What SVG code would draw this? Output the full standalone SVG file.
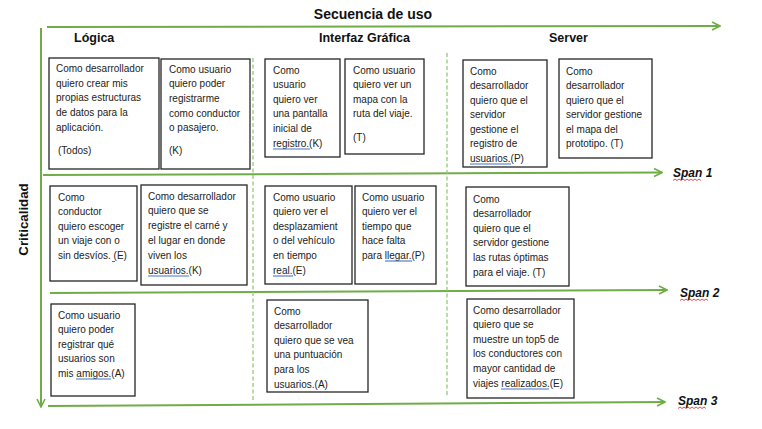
<svg xmlns="http://www.w3.org/2000/svg" width="762" height="429" viewBox="0 0 762 429">
<style>
.axis{stroke:#70AD47;stroke-width:2;fill:none}
.dash{stroke:#8CC56A;stroke-width:1.2;stroke-dasharray:4 2.5;fill:none}
.box{fill:#fff;stroke:#262626;stroke-width:1.3}
.t{font-family:"Liberation Sans",Arial,sans-serif;font-size:10px;fill:#222}
.h{font-family:"Liberation Sans",Arial,sans-serif;font-weight:bold;fill:#111}
.span{font-family:"Liberation Sans",Arial,sans-serif;font-weight:bold;font-style:italic;font-size:12px;fill:#111}
.ul{stroke:#4472C4;stroke-width:1.1}
.sq{stroke:#E02020;stroke-width:0.8;fill:none}
</style>
<defs>
<marker id="arr" viewBox="0 0 10 10" refX="9" refY="5" markerWidth="5" markerHeight="5" orient="auto" markerUnits="strokeWidth">
<path d="M1,1 L9,5 L1,9" fill="none" stroke="#70AD47" stroke-width="1.6"/>
</marker>
</defs>
<rect width="762" height="429" fill="#fff"/>

<g id="headers">
<text class="h" x="373" y="19" font-size="14" text-anchor="middle">Secuencia de uso</text>
<text class="h" x="74" y="42" font-size="12.5">Lógica</text>
<text class="h" x="319" y="42" font-size="12.5">Interfaz Gráfica</text>
<text class="h" x="549" y="42" font-size="12.5">Server</text>
<text class="h" font-size="13.3" text-anchor="middle" transform="translate(27.5,219.5) rotate(-90)">Criticalidad</text>
<text class="span" x="673" y="177">Span 1</text>
<text class="span" x="680" y="297">Span 2</text>
<text class="span" x="678" y="405">Span 3</text>
<path class="sq" d="M673,180.5 l2,-1.5 l2,1.5 l2,-1.5 l2,1.5 l2,-1.5 l2,1.5 l2,-1.5 l2,1.5 l2,-1.5 l2,1.5 l2,-1.5 l2,1.5 l2,-1.5 l2,1.5"/>
<path class="sq" d="M680,300.5 l2,-1.5 l2,1.5 l2,-1.5 l2,1.5 l2,-1.5 l2,1.5 l2,-1.5 l2,1.5 l2,-1.5 l2,1.5 l2,-1.5 l2,1.5 l2,-1.5 l2,1.5"/>
<path class="sq" d="M678,408.5 l2,-1.5 l2,1.5 l2,-1.5 l2,1.5 l2,-1.5 l2,1.5 l2,-1.5 l2,1.5 l2,-1.5 l2,1.5 l2,-1.5 l2,1.5 l2,-1.5 l2,1.5"/>
</g>

<g id="connectors">
<line class="axis" x1="47" y1="27" x2="720" y2="26" marker-end="url(#arr)"/>
<line class="axis" x1="41" y1="28" x2="41" y2="407" marker-end="url(#arr)"/>
<line class="axis" x1="43" y1="175" x2="662" y2="172.5" marker-end="url(#arr)"/>
<line class="axis" x1="50" y1="293" x2="667" y2="290" marker-end="url(#arr)"/>
<line class="axis" x1="48" y1="406" x2="665" y2="402" marker-end="url(#arr)"/>
<line class="dash" x1="253" y1="58" x2="253" y2="400"/>
<line class="dash" x1="447" y1="53" x2="447" y2="397"/>
</g>

<g id="n1">
<rect class="box" x="49" y="58" width="110" height="111"/>
<text class="t" y="72"><tspan x="56">Como desarrollador</tspan><tspan x="56" dy="14.7">quiero crear mis</tspan><tspan x="56" dy="14.7">propias estructuras</tspan><tspan x="56" dy="14.7">de datos para la</tspan><tspan x="56" dy="14.7">aplicación.</tspan><tspan x="58" dy="22.7">(Todos)</tspan></text>
</g>
<g id="n2">
<rect class="box" x="161" y="59" width="89" height="110"/>
<text class="t" y="72.5"><tspan x="169">Como usuario</tspan><tspan x="169" dy="14.7">quiero poder</tspan><tspan x="169" dy="14.7">registrarme</tspan><tspan x="169" dy="14.7">como conductor</tspan><tspan x="169" dy="14.7">o pasajero.</tspan><tspan x="169" dy="23">(K)</tspan></text>
</g>
<g id="n3">
<rect class="box" x="265" y="59" width="75" height="98"/>
<text class="t" y="73.5"><tspan x="273">Como</tspan><tspan x="273" dy="14.6">usuario</tspan><tspan x="273" dy="14.6">quiero ver</tspan><tspan x="273" dy="14.6">una pantalla</tspan><tspan x="273" dy="14.6">inicial de</tspan><tspan x="273" dy="14.6">registro.(K)</tspan></text>
<line class="ul" x1="273" y1="149" x2="310" y2="149"/>
</g>
<g id="n4">
<rect class="box" x="345" y="59" width="79" height="95"/>
<text class="t" y="73.5"><tspan x="353">Como usuario</tspan><tspan x="353" dy="14.5">quiero ver un</tspan><tspan x="353" dy="14.5">mapa con la</tspan><tspan x="353" dy="14.5">ruta del viaje.</tspan><tspan x="353" dy="23.5">(T)</tspan></text>
</g>
<g id="n5">
<rect class="box" x="463" y="60" width="84" height="107"/>
<text class="t" y="74.5"><tspan x="470">Como</tspan><tspan x="470" dy="14.5">desarrollador</tspan><tspan x="470" dy="14.5">quiero que el</tspan><tspan x="470" dy="14.5">servidor</tspan><tspan x="470" dy="14.5">gestione el</tspan><tspan x="470" dy="14.5">registro de</tspan><tspan x="470" dy="14.5">usuarios.(P)</tspan></text>
<line class="ul" x1="470" y1="164" x2="511" y2="164"/>
</g>
<g id="n6">
<rect class="box" x="559" y="59" width="93" height="99"/>
<text class="t" y="74.5"><tspan x="566">Como</tspan><tspan x="566" dy="14.5">desarrollador</tspan><tspan x="566" dy="14.5">quiero que el</tspan><tspan x="566" dy="14.5">servidor gestione</tspan><tspan x="566" dy="14.5">el mapa del</tspan><tspan x="566" dy="14.5">prototipo. (T)</tspan></text>
</g>

<g id="n7">
<rect class="box" x="50" y="186" width="87" height="95"/>
<text class="t" y="200.5"><tspan x="58">Como</tspan><tspan x="58" dy="14.6">conductor</tspan><tspan x="58" dy="14.6">quiero escoger</tspan><tspan x="58" dy="14.6">un viaje con o</tspan><tspan x="58" dy="14.6">sin desvíos. (E)</tspan></text>
<line class="ul" x1="112" y1="261.5" x2="115" y2="261.5"/>
</g>
<g id="n8">
<rect class="box" x="141" y="185" width="106" height="100"/>
<text class="t" y="199.5"><tspan x="148">Como desarrollador</tspan><tspan x="148" dy="14.8">quiero que se</tspan><tspan x="148" dy="14.8">registre el carné y</tspan><tspan x="148" dy="14.8">el lugar en donde</tspan><tspan x="148" dy="14.8">viven los</tspan><tspan x="148" dy="14.8">usuarios.(K)</tspan></text>
<line class="ul" x1="148" y1="276" x2="189" y2="276"/>
</g>
<g id="n9">
<rect class="box" x="265" y="186" width="87" height="98"/>
<text class="t" y="200.5"><tspan x="273">Como usuario</tspan><tspan x="273" dy="14.6">quiero ver el</tspan><tspan x="273" dy="14.6">desplazamient</tspan><tspan x="273" dy="14.6">o del vehículo</tspan><tspan x="273" dy="14.6">en tiempo</tspan><tspan x="273" dy="14.6">real.(E)</tspan></text>
<line class="ul" x1="273" y1="276" x2="293" y2="276"/>
</g>
<g id="n10">
<rect class="box" x="355" y="186" width="81" height="98"/>
<text class="t" y="200.5"><tspan x="362">Como usuario</tspan><tspan x="362" dy="14.5">quiero ver el</tspan><tspan x="362" dy="14.5">tiempo que</tspan><tspan x="362" dy="14.5">hace falta</tspan><tspan x="362" dy="14.5">para llegar.(P)</tspan></text>
<line class="ul" x1="385" y1="261" x2="412" y2="261"/>
</g>
<g id="n11">
<rect class="box" x="466" y="187" width="103" height="99"/>
<text class="t" y="202.5"><tspan x="473">Como</tspan><tspan x="473" dy="14.6">desarrollador</tspan><tspan x="473" dy="14.6">quiero que el</tspan><tspan x="473" dy="14.6">servidor gestione</tspan><tspan x="473" dy="14.6">las rutas óptimas</tspan><tspan x="473" dy="14.6">para el viaje. (T)</tspan></text>
</g>

<g id="n12">
<rect class="box" x="51" y="304" width="84" height="92"/>
<text class="t" y="318.5"><tspan x="58">Como usuario</tspan><tspan x="58" dy="14.5">quiero poder</tspan><tspan x="58" dy="14.5">registrar qué</tspan><tspan x="58" dy="14.5">usuarios son</tspan><tspan x="58" dy="14.5">mis amigos.(A)</tspan></text>
<line class="ul" x1="76" y1="379" x2="111" y2="379"/>
</g>
<g id="n13">
<rect class="box" x="267" y="300" width="101" height="92"/>
<text class="t" y="314.5"><tspan x="274">Como</tspan><tspan x="274" dy="14.6">desarrollador</tspan><tspan x="274" dy="14.6">quiero que se vea</tspan><tspan x="274" dy="14.6">una puntuación</tspan><tspan x="274" dy="14.6">para los</tspan><tspan x="274" dy="14.6">usuarios.(A)</tspan></text>
</g>
<g id="n14">
<rect class="box" x="467" y="299" width="107" height="99"/>
<text class="t" y="313.5"><tspan x="473">Como desarrollador</tspan><tspan x="473" dy="14.6">quiero que se</tspan><tspan x="473" dy="14.6">muestre un top5 de</tspan><tspan x="473" dy="14.6">los conductores con</tspan><tspan x="473" dy="14.6">mayor cantidad de</tspan><tspan x="473" dy="14.6">viajes realizados.(E)</tspan></text>
<line class="ul" x1="501" y1="389" x2="549" y2="389"/>
</g>
</svg>
